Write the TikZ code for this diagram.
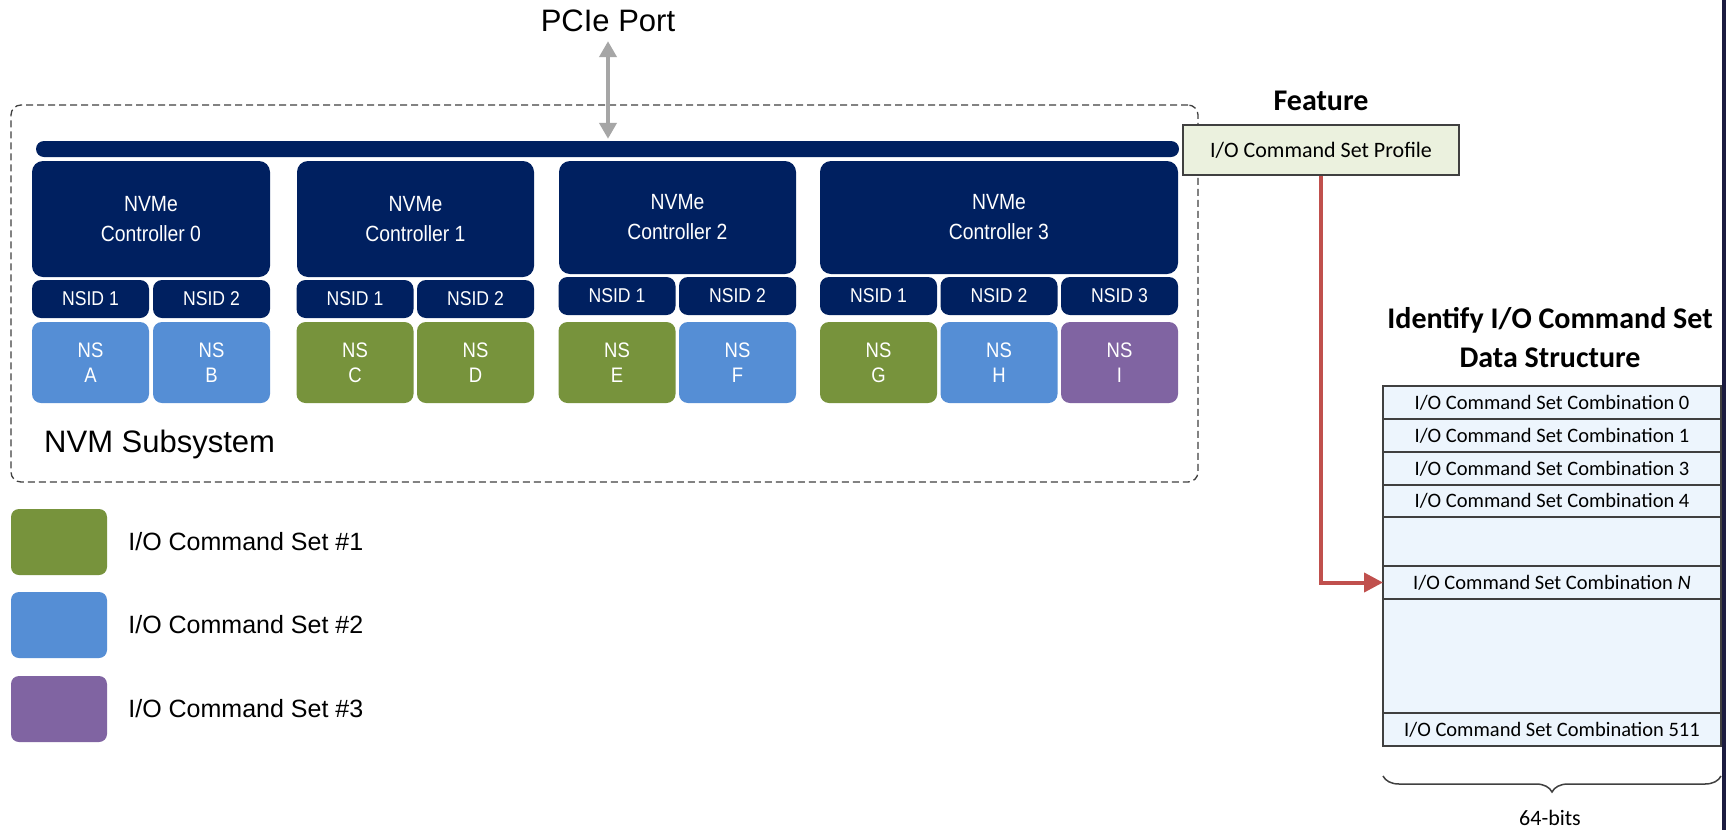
\documentclass[tikz,border=0pt]{standalone}
\usepackage{fontspec}
\setmainfont{Liberation Sans}
\newfontfamily\calib{Carlito}
\newfontfamily\narrowsf[FakeStretch=0.88]{Liberation Sans}
\usetikzlibrary{arrows.meta,positioning,decorations.pathreplacing}
\usepackage{xcolor}
\definecolor{navy}{HTML}{002060}
\definecolor{setgreen}{HTML}{77933C}
\definecolor{setblue}{HTML}{558ED5}
\definecolor{setpurple}{HTML}{8064A2}
\definecolor{profilefill}{HTML}{EBF1DE}
\definecolor{boxline}{HTML}{404040}
\definecolor{tblfill}{HTML}{EDF5FD}
\definecolor{pickred}{HTML}{C0504D}
\definecolor{pciegray}{HTML}{A6A6A6}
\definecolor{slideedge}{HTML}{1C1C40}
\tikzset{
  subsysbox/.style={draw=boxline,line width=1.3pt,dash pattern=on 7pt off 4pt,rounded corners=10pt,inner sep=0pt},
  bus/.style={fill=navy,rounded corners=8pt,inner sep=0pt},
  ctrl/.style={fill=navy,text=white,rounded corners=11pt,align=center,inner sep=0pt,font=\narrowsf\fontsize{22}{30}\selectfont},
  nsid/.style={fill=navy,text=white,rounded corners=9pt,inner sep=0pt,minimum width=117pt,minimum height=38pt,font=\narrowsf\fontsize{20}{25}\selectfont},
  nsbox/.style={text=white,rounded corners=9pt,align=center,inner sep=0pt,minimum width=117pt,minimum height=81pt,font=\narrowsf\fontsize{21}{25}\selectfont},
  set1/.style={nsbox,fill=setgreen},
  set2/.style={nsbox,fill=setblue},
  set3/.style={nsbox,fill=setpurple},
  legbox/.style={rounded corners=8pt,minimum width=96pt,minimum height=66pt,inner sep=0pt},
  legtext/.style={inner sep=0pt,font=\fontsize{25}{30}\selectfont},
  bigtext/.style={inner sep=0pt,font=\fontsize{31}{36}\selectfont},
  profile/.style={draw=boxline,line width=1.5pt,fill=profilefill,inner sep=0pt,minimum width=276pt,minimum height=50pt,font=\calib\fontsize{22}{26}\selectfont},
  heading/.style={align=center,inner sep=0pt,font=\calib\bfseries\fontsize{30}{39}\selectfont},
  tblrow/.style={draw=boxline,line width=1.5pt,fill=tblfill,inner sep=0pt,outer sep=0pt,minimum width=338pt,font=\calib\fontsize{20.5}{24}\selectfont},
  pcielink/.style={{Triangle[length=16pt,width=17pt]}-{Triangle[length=16pt,width=17pt]},line width=4.5pt,draw=pciegray},
  pick/.style={-{Triangle[length=19pt,width=19pt]},line width=4pt,draw=pickred},
  bitbrace/.style={decorate,decoration={brace,mirror,amplitude=16pt},line width=1.5pt,draw=boxline}
}

\begin{document}
\begin{tikzpicture}[x=1pt,y=-1pt]
\useasboundingbox (0,0) rectangle (1726,830);
\fill[white] (0,0) rectangle (1726,830);
\fill[slideedge] (1722,0) rectangle (1726,830);

% NVM subsystem
\node[subsysbox,minimum width=1187pt,minimum height=377pt] (subsys) at (604.5,293.5) {};
\node[bigtext,anchor=west] (subsyslbl) at (44,444) {NVM Subsystem};
\node[bigtext] (pcie) at (608,21) {PCIe Port};
\node[bus,minimum width=1143pt,minimum height=16pt] (bus) at (607.5,149) {};
\draw[pcielink,shorten <=9pt,shorten >=2pt] (pcie.south) -- (pcie.south |- bus.north);

% controllers
\node[ctrl,minimum width=238pt,minimum height=116pt] (ctrl0) at (151,219) {NVMe\\Controller 0};
\node[ctrl,minimum width=237pt,minimum height=116pt] (ctrl1) at (415.5,219) {NVMe\\Controller 1};
\node[ctrl,minimum width=237pt,minimum height=113pt] (ctrl2) at (677.5,217.5) {NVMe\\Controller 2};
\node[ctrl,minimum width=358pt,minimum height=113pt] (ctrl3) at (999,217.5) {NVMe\\Controller 3};

\node[nsid] (c0n1) at (90.5,299) {NSID 1};
\node[nsid] (c0n2) at (211.5,299) {NSID 2};
\node[nsid] (c1n1) at (355,299) {NSID 1};
\node[nsid] (c1n2) at (475.5,299) {NSID 2};
\node[nsid] (c2n1) at (617,296) {NSID 1};
\node[nsid] (c2n2) at (737.5,296) {NSID 2};
\node[nsid] (c3n1) at (878.5,296) {NSID 1};
\node[nsid] (c3n2) at (999,296) {NSID 2};
\node[nsid] (c3n3) at (1119.5,296) {NSID 3};

\node[set2] (nsA) at (90.5,362.5) {NS\\A};
\node[set2] (nsB) at (211.5,362.5) {NS\\B};
\node[set1] (nsC) at (355,362.5) {NS\\C};
\node[set1] (nsD) at (475.5,362.5) {NS\\D};
\node[set1] (nsE) at (617,362.5) {NS\\E};
\node[set2] (nsF) at (737.5,362.5) {NS\\F};
\node[set1] (nsG) at (878.5,362.5) {NS\\G};
\node[set2] (nsH) at (999,362.5) {NS\\H};
\node[set3] (nsI) at (1119.5,362.5) {NS\\I};

% legend
\node[legbox,fill=setgreen] (leg1) at (59,542) {};
\node[legbox,fill=setblue] (leg2) at (59,625) {};
\node[legbox,fill=setpurple] (leg3) at (59,709) {};
\node[legtext,right=21pt of leg1] (leg1txt) {I/O Command Set \#1};
\node[legtext,right=21pt of leg2] (leg2txt) {I/O Command Set \#2};
\node[legtext,right=21pt of leg3] (leg3txt) {I/O Command Set \#3};

% feature and data structure
\node[heading] (feature) at (1321,101) {Feature};
\node[profile] (profile) at (1321,150) {I/O Command Set Profile};
\node[heading] (dstitle) at (1550,338) {Identify I/O Command Set\\Data Structure};

\node[tblrow,minimum height=33pt] (r0) at (1552,402.5) {I/O Command Set Combination 0};
\node[tblrow,minimum height=33pt,below=0pt of r0] (r1) {I/O Command Set Combination 1};
\node[tblrow,minimum height=33pt,below=0pt of r1] (r3) {I/O Command Set Combination 3};
\node[tblrow,minimum height=32pt,below=0pt of r3] (r4) {I/O Command Set Combination 4};
\node[tblrow,minimum height=49pt,below=0pt of r4] (gapA) {};
\node[tblrow,minimum height=33pt,below=0pt of gapA] (rN) {I/O Command Set Combination \textit{N}};
\node[tblrow,minimum height=114pt,below=0pt of rN] (gapB) {};
\node[tblrow,minimum height=33pt,below=0pt of gapB] (r511) {I/O Command Set Combination 511};

\draw[pick] (profile.south) |- (rN.west);

\coordinate (braceL) at (1383,776);
\coordinate (braceR) at (1721,776);
\draw[bitbrace] (braceL) -- (braceR);
\node[anchor=base,inner sep=0pt,font=\calib\fontsize{22}{26}\selectfont] (bits) at (1550,825) {64-bits};
\end{tikzpicture}
\end{document}
